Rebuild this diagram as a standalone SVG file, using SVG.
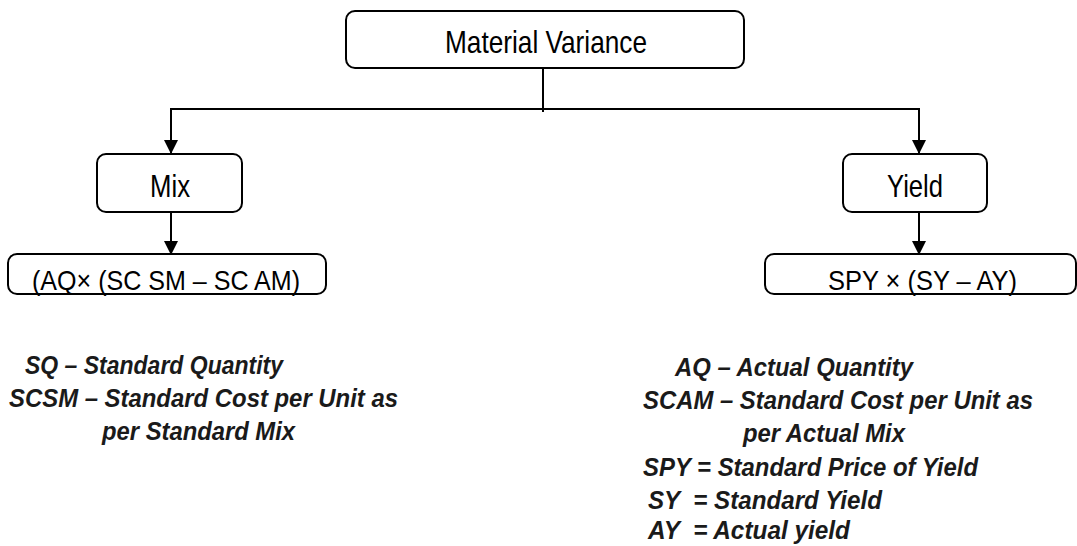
<svg xmlns="http://www.w3.org/2000/svg" width="1077" height="546" viewBox="0 0 1077 546">
<style>
.box{fill:#fff;stroke:#000;stroke-width:2}
.lbl{font-family:"Liberation Sans",Arial,sans-serif;fill:#000}
.leg{font-family:"Liberation Sans",Arial,sans-serif;font-weight:bold;font-style:italic;font-size:26px;fill:#1a1a1a}
.ln{stroke:#000;stroke-width:2;fill:none}
</style>
<defs>
<marker id="ah" viewBox="0 0 14 14" refX="14" refY="7" markerWidth="14" markerHeight="14" markerUnits="userSpaceOnUse" orient="auto">
<path d="M0,0 L14,7 L0,14 Z" fill="#000"/>
</marker>
</defs>
<rect width="1077" height="546" fill="#fff"/>
<g id="connectors">
<line class="ln" x1="543" y1="68" x2="543" y2="112"/>
<line class="ln" x1="171" y1="109" x2="919" y2="109"/>
<line class="ln" x1="171" y1="108" x2="171" y2="154" marker-end="url(#ah)"/>
<line class="ln" x1="919" y1="108" x2="919" y2="154" marker-end="url(#ah)"/>
<line class="ln" x1="171" y1="212" x2="171" y2="255" marker-end="url(#ah)"/>
<line class="ln" x1="919" y1="212" x2="919" y2="255" marker-end="url(#ah)"/>
</g>
<g id="material-variance">
<rect class="box" x="346" y="11" width="398" height="57" rx="9"/>
<text class="lbl" x="445" y="53" font-size="32" textLength="202" lengthAdjust="spacingAndGlyphs">Material Variance</text>
</g>
<g id="mix">
<rect class="box" x="97" y="154" width="145" height="58" rx="9"/>
<text class="lbl" x="150" y="197" font-size="32" textLength="40" lengthAdjust="spacingAndGlyphs">Mix</text>
</g>
<g id="yield">
<rect class="box" x="843" y="154" width="144" height="58" rx="9"/>
<text class="lbl" x="887" y="197" font-size="32" textLength="56" lengthAdjust="spacingAndGlyphs">Yield</text>
</g>
<g id="mix-formula">
<rect class="box" x="8" y="254" width="318" height="40" rx="9"/>
<text class="lbl" x="32" y="290" font-size="28" textLength="268" lengthAdjust="spacingAndGlyphs">(AQ× (SC SM – SC AM)</text>
</g>
<g id="yield-formula">
<rect class="box" x="765" y="254" width="311" height="40" rx="9"/>
<text class="lbl" x="828" y="290" font-size="28" textLength="189" lengthAdjust="spacingAndGlyphs">SPY × (SY – AY)</text>
</g>
<g id="legend-left">
<text class="leg" x="25" y="374" textLength="258" lengthAdjust="spacingAndGlyphs">SQ – Standard Quantity</text>
<text class="leg" x="9" y="407" textLength="389" lengthAdjust="spacingAndGlyphs">SCSM – Standard Cost per Unit as</text>
<text class="leg" x="102" y="440" textLength="193" lengthAdjust="spacingAndGlyphs">per Standard Mix</text>
</g>
<g id="legend-right">
<text class="leg" x="675" y="376" textLength="238" lengthAdjust="spacingAndGlyphs">AQ – Actual Quantity</text>
<text class="leg" x="643" y="409" textLength="390" lengthAdjust="spacingAndGlyphs">SCAM – Standard Cost per Unit as</text>
<text class="leg" x="743" y="442" textLength="162" lengthAdjust="spacingAndGlyphs">per Actual Mix</text>
<text class="leg" x="643" y="476" textLength="335" lengthAdjust="spacingAndGlyphs">SPY = Standard Price of Yield</text>
<text class="leg" x="648" y="509" textLength="234" lengthAdjust="spacingAndGlyphs" xml:space="preserve">SY  = Standard Yield</text>
<text class="leg" x="648" y="539" textLength="202" lengthAdjust="spacingAndGlyphs" xml:space="preserve">AY  = Actual yield</text>
</g>
</svg>
